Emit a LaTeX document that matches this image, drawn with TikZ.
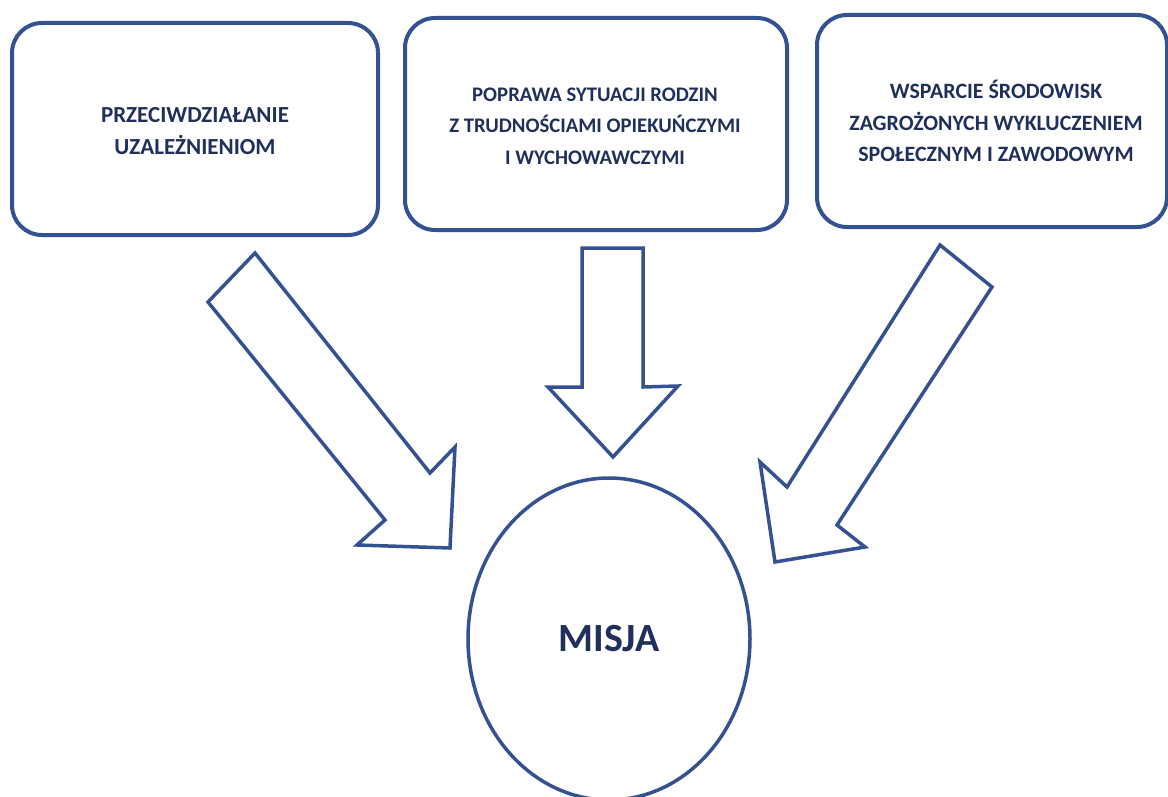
\documentclass[tikz,border=0pt]{standalone}
\usepackage{fontspec}
\setmainfont{Carlito}
\usetikzlibrary{shapes.geometric}
\definecolor{lineblue}{RGB}{52,82,145}
\definecolor{textblue}{RGB}{32,48,92}
\begin{document}
\begin{tikzpicture}[x=1pt,y=-1pt,
  goalbox/.style={draw=lineblue,line width=4pt,rounded corners=30pt,fill=white,inner sep=0pt},
  goaltext/.style={text=textblue,align=center,font=\bfseries\fontsize{#1}{31.5}\selectfont},
  blockarrow/.style={draw=lineblue,line width=3.5pt,line join=miter,fill=white}]
\useasboundingbox (0,0) rectangle (1168,797);
\fill[white] (0,0) rectangle (1168,797);
\node[goalbox,minimum width=366pt,minimum height=212pt] (b1) at (195,129) {};
\node[goaltext=23] (t1) at (195,131) {PRZECIWDZIAŁANIE\\UZALEŻNIENIOM};
\node[goalbox,minimum width=382pt,minimum height=212pt] (b2) at (596,124) {};
\node[goaltext=20.7] (t2) at (595,126) {POPRAWA SYTUACJI RODZIN\\Z TRUDNOŚCIAMI OPIEKUŃCZYMI\\I WYCHOWAWCZYMI};
\node[goalbox,minimum width=350pt,minimum height=212pt] (b3) at (992,121) {};
\node[goaltext=21.9] (t3) at (996,121) {WSPARCIE ŚRODOWISK\\ZAGROŻONYCH WYKLUCZENIEM\\SPOŁECZNYM I ZAWODOWYM};
\node[ellipse,draw=lineblue,line width=3.5pt,minimum width=282pt,minimum height=322pt,inner sep=0pt,
  text=textblue,font=\bfseries\fontsize{40}{42}\selectfont] (m) at (609,639) {MISJA};
% left arrow
\draw[blockarrow] (255,253) -- (208,302) -- (385,520) -- (357,545) -- (450,548) -- (455,447) -- (430,473) -- cycle;
% middle arrow
\draw[blockarrow] (582,248) -- (643,248) -- (643,387) -- (678,386) -- (613,457) -- (548,387) -- (582,387) -- cycle;
% right arrow
\draw[blockarrow] (940,245) -- (992,287) -- (837,525) -- (865,547) -- (775,562) -- (760,462) -- (787,487) -- cycle;
\end{tikzpicture}
\end{document}
